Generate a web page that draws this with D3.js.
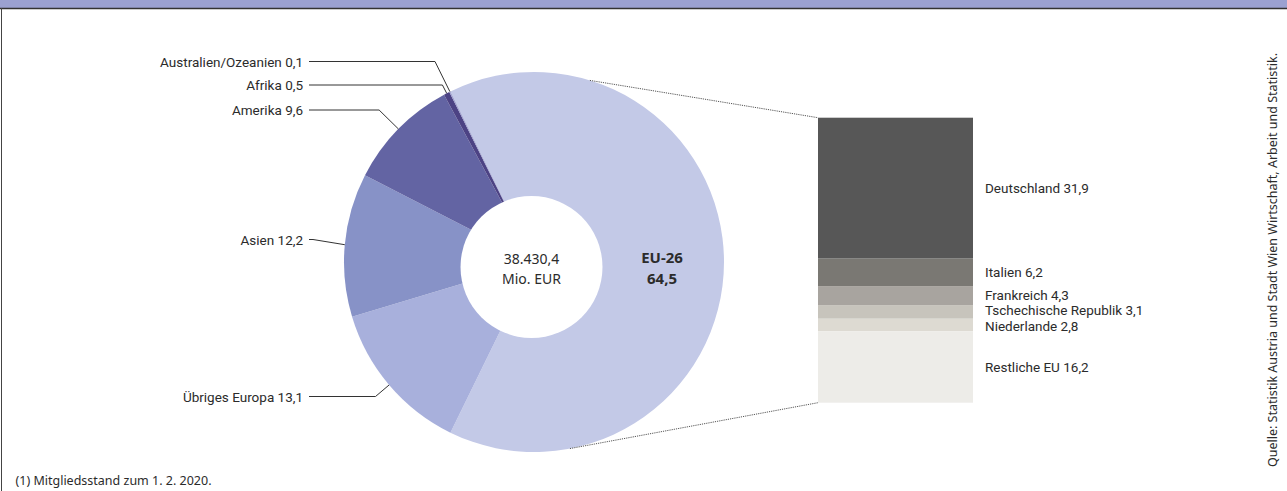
<!DOCTYPE html>
<html>
<head>
<meta charset="utf-8">
<script src="https://cdn.jsdelivr.net/npm/d3@7"></script>
<style>
  html, body { margin: 0; padding: 0; background: #fff; }
  svg { display: block; }
  .lbl { font-family: Roboto, "DejaVu Sans Condensed", sans-serif; font-size: 13.5px; fill: #2b2b2b; }
  .note { font-family: "Noto Sans", sans-serif; font-size: 12.5px; fill: #2b2b2b; }
  .center { font-family: "Noto Sans", sans-serif; font-size: 14px; fill: #2b2b2b; }
  .eu { font-family: "Noto Sans", sans-serif; font-size: 15px; font-weight: bold; fill: #2b2b2b; }
</style>
</head>
<body>
<svg id="chart" width="1287" height="491"></svg>
<script>
// Exporte nach Zielregionen, Anteile in %
const regions = ["EU-26", "Übriges Europa", "Asien", "Amerika", "Afrika", "Australien/Ozeanien"];
const regionShares = [64.5, 13.1, 12.2, 9.6, 0.5, 0.1];
const regionColors = ["#c3c9e7", "#a8b0dc", "#8792c7", "#6364a3", "#4c4284", "#9a9ccc"];

// Aufschlüsselung des EU-26-Anteils nach Ländern
const countries = ["Deutschland", "Italien", "Frankreich", "Tschechische Republik", "Niederlande", "Restliche EU"];
const countryShares = [31.9, 6.2, 4.3, 3.1, 2.8, 16.2];
const countryColors = ["#575757", "#7a7873", "#a8a49f", "#c7c4bc", "#dddad2", "#edece8"];

const totalValue = "38.430,4";
const totalUnit = "Mio. EUR";
const footnote = "(1) Mitgliedsstand zum 1. 2. 2020.";
const source = "Quelle: Statistik Austria und Stadt Wien Wirtschaft, Arbeit und Statistik.";

const fmt = v => d3.format(".1f")(v).replace(".", ",");

const svg = d3.select("#chart");

// header band and frame
svg.append("rect").attr("x", 0).attr("y", 0).attr("width", 1287).attr("height", 8).attr("fill", "#9ba1d1");
svg.append("line").attr("x1", 0).attr("x2", 1287).attr("y1", 8.5).attr("y2", 8.5)
  .attr("stroke", "#333").attr("stroke-width", 1.5);
svg.append("line").attr("x1", 1.5).attr("x2", 1.5).attr("y1", 8).attr("y2", 491)
  .attr("stroke", "#444").attr("stroke-width", 1);

// ---- donut ----
const cx = 534, cy = 262, R = 190;
const hole = { dx: -2.5, dy: 5, r: 71 };
const total = d3.sum(regionShares);
// EU slice centred on the right-hand side
const start = Math.PI / 2 - Math.PI * regionShares[0] / total;
const pie = d3.pie().sort(null).value(d => d).startAngle(start).endAngle(start + 2 * Math.PI);
const arcs = pie(regionShares);
const arc = d3.arc().innerRadius(0).outerRadius(R);

const g = svg.append("g").attr("transform", `translate(${cx},${cy})`);
g.selectAll("path.slice").data(arcs).join("path")
  .attr("class", "slice")
  .attr("d", arc)
  .attr("fill", (d, i) => regionColors[i]);
g.append("circle").attr("cx", hole.dx).attr("cy", hole.dy).attr("r", hole.r).attr("fill", "#fff");

g.append("text").attr("class", "center").attr("x", hole.dx).attr("y", hole.dy - 8.5)
  .attr("text-anchor", "middle").attr("dominant-baseline", "central").text(totalValue);
g.append("text").attr("class", "center").attr("x", hole.dx).attr("y", hole.dy + 11)
  .attr("text-anchor", "middle").attr("dominant-baseline", "central").text(totalUnit);

const euMid = (arcs[0].startAngle + arcs[0].endAngle) / 2;
const euR = 128;
const euX = euR * Math.sin(euMid), euY = -euR * Math.cos(euMid);
g.append("text").attr("class", "eu").attr("x", euX).attr("y", euY - 5.5)
  .attr("text-anchor", "middle").attr("dominant-baseline", "central").text(regions[0]);
g.append("text").attr("class", "eu").attr("x", euX).attr("y", euY + 15.5)
  .attr("text-anchor", "middle").attr("dominant-baseline", "central").text(fmt(regionShares[0]));

// ---- outside labels for the smaller regions ----
const labelY = { "Übriges Europa": 396.5, "Asien": 239.5, "Amerika": 110, "Afrika": 85, "Australien/Ozeanien": 61.5 };
const labelRight = 303, leaderStart = 309;

arcs.forEach((d, i) => {
  if (i === 0) return;
  const name = regions[i];
  const a = (d.startAngle + d.endAngle) / 2;
  const sx = cx + R * Math.sin(a), sy = cy - R * Math.cos(a);
  const ly = labelY[name];
  // continue radially from the rim up to the label row
  const t = (ly - sy) / (-Math.cos(a));
  let bx = sx + t * Math.sin(a);
  if (!isFinite(bx) || bx < leaderStart + 4) bx = leaderStart + 4;
  svg.append("polyline")
    .attr("points", [[leaderStart, ly], [bx, ly], [sx, sy]].map(p => p.join(",")).join(" "))
    .attr("fill", "none").attr("stroke", "#333").attr("stroke-width", 1);
  svg.append("text").attr("class", "lbl")
    .attr("x", labelRight).attr("y", ly)
    .attr("text-anchor", "end").attr("dominant-baseline", "central")
    .text(`${name} ${fmt(regionShares[i])}`);
});

// ---- stacked bar for the EU breakdown ----
const barX = 818, barW = 155, barTop = 117.7, barBottom = 402.7;
const y = d3.scaleLinear().domain([0, d3.sum(countryShares)]).range([barTop, barBottom]);
const cum = d3.cumsum(countryShares);
const segs = countryShares.map((v, i) => ({ name: countries[i], v, y0: i ? cum[i - 1] : 0, y1: cum[i], c: countryColors[i] }));

svg.selectAll("rect.seg").data(segs).join("rect")
  .attr("class", "seg")
  .attr("x", barX).attr("width", barW)
  .attr("y", d => y(d.y0)).attr("height", d => y(d.y1) - y(d.y0))
  .attr("fill", d => d.c);

// small segments are packed tightly; nudge their labels apart a little
const labelNudge = { "Frankreich": -1, "Tschechische Republik": -1.5, "Niederlande": 1 };
svg.selectAll("text.seglbl").data(segs).join("text")
  .attr("class", "lbl seglbl")
  .attr("x", barX + barW + 12)
  .attr("y", d => (y(d.y0) + y(d.y1)) / 2 + (labelNudge[d.name] || 0))
  .attr("dominant-baseline", "central")
  .text(d => `${d.name} ${fmt(d.v)}`);

// dotted connectors from the EU slice rim to the bar
const topA = 17.1 * Math.PI / 180, botA = 169.1 * Math.PI / 180;
[[topA, barTop], [botA, barBottom]].forEach(([a, by]) => {
  svg.append("line")
    .attr("x1", cx + R * Math.sin(a)).attr("y1", cy - R * Math.cos(a))
    .attr("x2", barX).attr("y2", by)
    .attr("stroke", "#555").attr("stroke-width", 1).attr("stroke-dasharray", "1.2,1");
});

// footnote and source
svg.append("text").attr("class", "note").attr("x", 15.5).attr("y", 480)
  .attr("dominant-baseline", "central").text(footnote);
svg.append("text").attr("class", "note")
  .attr("transform", "translate(1272.5,260) rotate(-90)")
  .attr("text-anchor", "middle").attr("dominant-baseline", "central").text(source);
</script>
</body>
</html>
